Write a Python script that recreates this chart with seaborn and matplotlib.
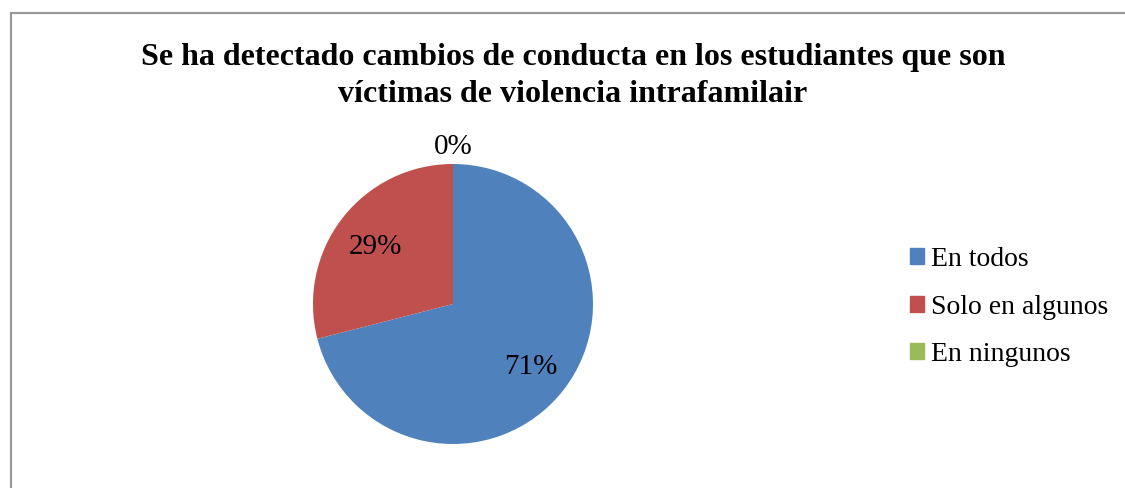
import matplotlib
matplotlib.use('Agg')
import matplotlib.pyplot as plt
import seaborn as sns
import numpy as np

categories = ['En todos', 'Solo en algunos', 'En ningunos']
values = [71, 29, 0]
colors = ['#4F81BD', '#C0504D', '#9BBB59']
title = 'Se ha detectado cambios de conducta en los estudiantes que son\nvíctimas de violencia intrafamilair'

sns.set_style('white')
plt.rcParams['font.family'] = ['Liberation Serif', 'DejaVu Serif']
plt.rcParams['text.color'] = 'black'

W, H = 1125, 488
fig = plt.figure(figsize=(W / 100, H / 100), dpi=100)

# chart frame (cropped on right and bottom like the original)
fig.patches.append(plt.Rectangle((10.5 / W, -0.05), 1.2, 1.05 - 13.5 / H,
                                 transform=fig.transFigure, fill=False,
                                 edgecolor='#999999', linewidth=1.6))

fig.text(573 / W, 1 - 76 / H, title, ha='center', va='center',
         fontsize=23, fontweight='bold', linespacing=1.35)

r = 140
cx, cy = 453, 304
ax = fig.add_axes([(cx - r) / W, 1 - (cy + r) / H, 2 * r / W, 2 * r / H])
wedges, texts, autotexts = ax.pie(values, colors=colors, startangle=90,
                                  counterclock=False, autopct='%1.0f%%',
                                  pctdistance=0.7, radius=1,
                                  wedgeprops=dict(linewidth=0),
                                  textprops=dict(fontsize=21, color='black'))
ax.set_xlim(-1, 1)
ax.set_ylim(-1, 1)
ax.set_aspect('equal')
for t in autotexts:
    t.set_va('center_baseline')

# zero slice label sits outside the pie
w = wedges[2]
ang = np.deg2rad((w.theta1 + w.theta2) / 2)
autotexts[2].set_position((1.14 * np.cos(ang), 1.14 * np.sin(ang)))

handles = [plt.Rectangle((0, 0), 1, 1, color=c) for c in colors]
fig.legend(handles, categories, loc='center left',
           bbox_to_anchor=(885 / W, 1 - 307 / H), frameon=False,
           fontsize=20, handlelength=0.5, handleheight=0.5,
           handletextpad=0.25, labelspacing=0.8)

fig.savefig('out.png', dpi=100, facecolor='white')
